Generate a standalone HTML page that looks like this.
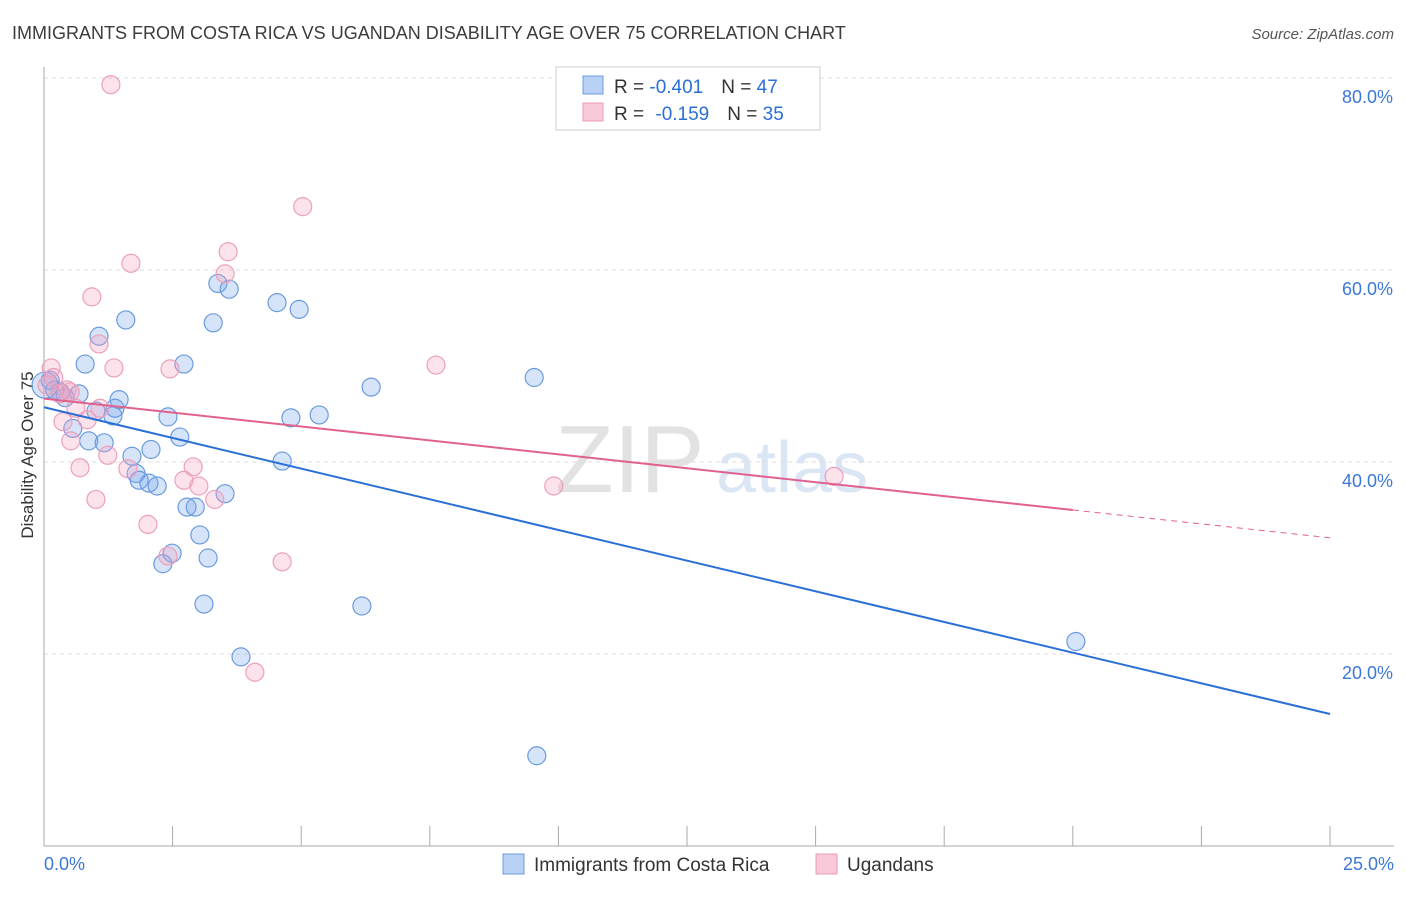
<!DOCTYPE html>
<html><head><meta charset="utf-8"><style>
body{margin:0;background:#fff;font-family:"Liberation Sans",sans-serif}
svg text{font-family:"Liberation Sans",sans-serif}
</style></head><body>
<svg id="c" width="1406" height="892">
<text x="12" y="39" font-size="18" fill="#3c3c3c">IMMIGRANTS FROM COSTA RICA VS UGANDAN DISABILITY AGE OVER 75 CORRELATION CHART</text>
<text x="1394" y="39" font-size="15" fill="#555" text-anchor="end" font-style="italic">Source: ZipAtlas.com</text>
<text x="0" y="0" font-size="17" fill="#333" transform="translate(33,455) rotate(-90)" text-anchor="middle">Disability Age Over 75</text>
<g><text x="555" y="492" font-size="96" fill="#e2e2e2" font-family="Liberation Serif,serif">ZIP</text><text x="716" y="492" font-size="72" fill="#dbe6f5">atlas</text></g>
<g id="grid"></g><g id="marks"></g>
<g>
<rect x="556" y="67" width="264" height="63" fill="#fff" stroke="#ccc"/>
<rect x="583" y="76" width="20" height="18" fill="#b7d0f3" stroke="#6a9be0"/>
<rect x="583" y="103" width="20" height="18" fill="#f8c9d8" stroke="#e89ab5"/>
<text x="614" y="93" font-size="19" fill="#333">R = <tspan fill="#2a6fd6">-0.401</tspan><tspan dx="18">N = </tspan><tspan fill="#2a6fd6">47</tspan></text>
<text x="614" y="120" font-size="19" fill="#333">R = <tspan fill="#2a6fd6" dx="6">-0.159</tspan><tspan dx="18">N = </tspan><tspan fill="#2a6fd6">35</tspan></text>
</g>
<g>
<rect x="503" y="854" width="21" height="20" fill="#b7d0f3" stroke="#6a9be0"/>
<text x="534" y="871" font-size="19" fill="#333">Immigrants from Costa Rica</text>
<rect x="816" y="854" width="21" height="20" fill="#f8c9d8" stroke="#e89ab5"/>
<text x="847" y="871" font-size="19" fill="#333">Ugandans</text>
</g>
</svg>
<script>
const xTicks=[0,2.5,5,7.5,10,12.5,15,17.5,20,22.5,25];
const yTicks=[20,40,60,80];
const yTickLabels=["20.0%","40.0%","60.0%","80.0%"];
const blueX=[1.07,1.59,0.80,2.72,3.38,3.60,3.29,4.53,4.96,9.53,6.36,0.12,0.21,0.31,0.68,1.46,1.38,1.01,1.34,2.41,4.80,5.35,0.56,2.64,0.87,1.17,2.08,1.71,4.63,1.79,1.85,2.04,2.20,3.52,2.78,2.94,3.03,2.49,2.31,3.19,3.11,6.18,3.83,9.58,20.06,0.41,0.02];
const blueY=[53.1,54.8,50.2,50.2,58.6,58.0,54.5,56.6,55.9,48.8,47.8,48.5,47.5,47.3,47.1,46.5,45.6,45.3,44.8,44.7,44.6,44.9,43.5,42.6,42.2,42.0,41.3,40.6,40.1,38.8,38.1,37.8,37.5,36.7,35.3,35.3,32.4,30.5,29.4,30.0,25.2,25.0,19.7,9.4,21.3,46.7,48.0];
const pinkX=[1.30,5.03,3.58,1.69,3.52,0.93,1.07,0.14,1.36,2.45,7.62,0.45,0.31,0.62,1.09,0.84,0.37,0.52,1.24,0.70,2.90,1.63,2.72,3.01,1.01,3.32,2.02,2.41,4.63,4.10,9.91,15.36,0.19,0.51,0.06];
const pinkY=[79.3,66.6,61.9,60.7,59.6,57.2,52.3,49.8,49.8,49.7,50.1,47.5,47.1,45.6,45.6,44.4,44.2,42.2,40.7,39.4,39.5,39.3,38.1,37.5,36.1,36.1,33.5,30.2,29.6,18.1,37.5,38.5,48.8,47.3,48.0];
const blueTrend=[45.7,13.75];
const pinkTrend=[46.6,32.1];
const pinkSolidEnd=20;
const X=v=>44+v/25*1286, Y=v=>846-v*9.6;
const NS="http://www.w3.org/2000/svg";
function mk(p,t,a){const e=document.createElementNS(NS,t);for(const k in a)e.setAttribute(k,a[k]);p.appendChild(e);return e;}
const g=document.getElementById('grid'), m=document.getElementById('marks');
yTicks.forEach((t,i)=>{
 const l=mk(g,'line',{x1:44,x2:1394,y1:Y(t),y2:Y(t),stroke:'#ddd','stroke-dasharray':'4,4'});
 
 
 const tx=mk(g,'text',{x:1393,y:Y(t)+25,'font-size':18,fill:'#3b78d8','text-anchor':'end'});tx.textContent=yTickLabels[i];
 
 
});
mk(g,'line',{x1:44,x2:44,y1:67,y2:846,stroke:'#aaa'});
mk(g,'line',{x1:44,x2:1394,y1:846,y2:846,stroke:'#aaa'});
xTicks.forEach(t=>{const l=mk(g,'line',{x1:X(t),x2:X(t),y1:826,y2:846,stroke:'#aaa'});
 
 });
const a0=mk(g,'text',{x:44,y:870,'font-size':18,fill:'#3b78d8'});a0.textContent='0.0%';


const a1=mk(g,'text',{x:1394,y:870,'font-size':18,fill:'#3b78d8','text-anchor':'end'});a1.textContent='25.0%';


blueX.forEach((x,i)=>{const c=mk(m,'circle',{cx:X(x),cy:Y(blueY[i]),r:(i==blueX.length-1?13:9),fill:'rgba(120,165,235,0.3)',stroke:'#6a9be0','stroke-width':1.2});
 
 });
pinkX.forEach((x,i)=>{const c=mk(m,'circle',{cx:X(x),cy:Y(pinkY[i]),r:9,fill:'rgba(245,160,190,0.3)',stroke:'#eca0bb','stroke-width':1.2});
 
 });
const bl=mk(m,'line',{x1:X(0),y1:Y(blueTrend[0]),x2:X(25),y2:Y(blueTrend[1]),stroke:'#2a6fd6','stroke-width':2});


const pe=pinkTrend[0]+(pinkTrend[1]-pinkTrend[0])*pinkSolidEnd/25;
const pl=mk(m,'line',{x1:X(0),y1:Y(pinkTrend[0]),x2:X(pinkSolidEnd),y2:Y(pe),stroke:'#e0608e','stroke-width':2});


const pd=mk(m,'line',{x1:X(pinkSolidEnd),y1:Y(pe),x2:X(25),y2:Y(pinkTrend[1]),stroke:'#e0608e','stroke-width':1,'stroke-dasharray':'6,5'});


</script>
</body></html>
